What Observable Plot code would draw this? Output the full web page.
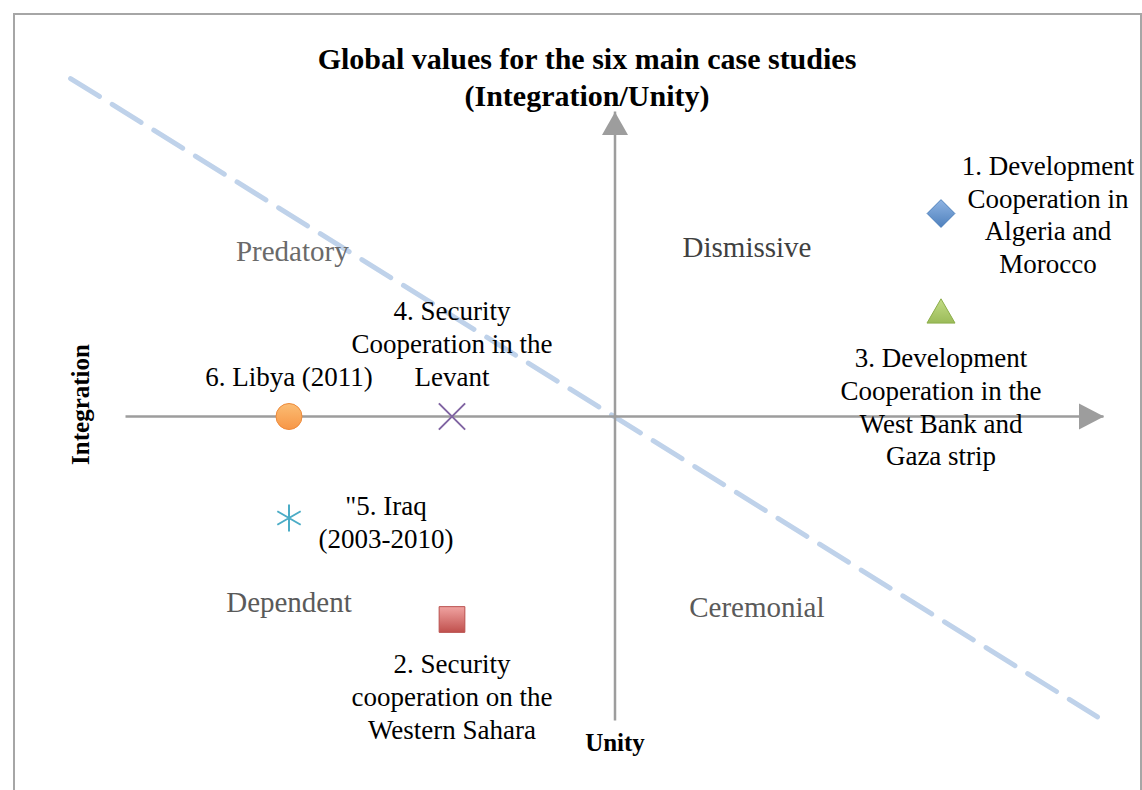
<!DOCTYPE html>
<html><head><meta charset="utf-8">
<script src="https://cdn.jsdelivr.net/npm/d3@7"></script>
<script src="https://cdn.jsdelivr.net/npm/@observablehq/plot@0.6"></script>
<style>
body{margin:0;background:#fff;width:1142px;height:790px;overflow:hidden;position:relative;font-family:"Liberation Serif","Times New Roman",serif}
#frame{position:absolute;left:13px;top:13px;width:1125px;height:820px;border:2px solid #a6a6a6;border-bottom:none}
#chart{position:absolute;left:0;top:0}
#title{position:absolute;left:0;top:40px;width:1174px;text-align:center;font-weight:bold;font-size:30px;line-height:37px;color:#000}
</style></head><body>
<div id="frame"></div>
<div id="chart"></div>
<div id="title">Global values for the six main case studies<br>(Integration/Unity)</div>
<script>
// ---- data ----
const caseLabels = [
  "1. Development\nCooperation in\nAlgeria and\nMorocco",
  "2. Security\ncooperation on the\nWestern Sahara",
  "3. Development\nCooperation in the\nWest Bank and\nGaza strip",
  "4. Security\nCooperation in the\nLevant",
  "\"5. Iraq\n(2003-2010)",
  "6. Libya (2011)"
];
const unity = [2, -1, 2, -1, -2, -2];
const integration = [2, -2, 1, 0, -1, 0];

const quadrantNames = ["Predatory", "Dismissive", "Dependent", "Ceremonial"];
const quadrantUnity = [-1.98, 0.81, -2.0, 0.87];
const quadrantIntegration = [1.62, 1.66, -1.83, -1.88];

const axisRange = [-3, 3];
const diagonalUnity = [-3.34, 2.96];
const diagonalIntegration = [3.33, -2.96];

// ---- styles ----
const caseStyles = [
  {symbol: "diamond2", fill: "url(#gBlue)", stroke: "#4a7ebb", r: 12.5, dx: 107, dy: 0},
  {symbol: "square", fill: "url(#gRed)", stroke: "#b9504d", r: 14.5, dx: 0, dy: 76},
  {symbol: "triangle", fill: "url(#gGreen)", stroke: "#8cae4a", r: 10.4, dx: 0, dy: 91},
  {symbol: "times", fill: "none", stroke: "#8064a2", r: 12, dx: 0, dy: -74, sw: 2},
  {symbol: "asterisk", fill: "none", stroke: "#4bacc6", r: 12.8, dx: 97, dy: 3, sw: 2},
  {symbol: "circle", fill: "url(#gOrange)", stroke: "#ee8a3a", r: 13, dx: 0, dy: -41}
];
const quadrantColors = ["#6a6a6a", "#404040", "#5a5a5a", "#5a5a5a"];

const rows = caseLabels.map((label, i) => ({label, x: unity[i], y: integration[i], i}));
const quadrants = quadrantNames.map((name, i) => ({name, x: quadrantUnity[i], y: quadrantIntegration[i], c: quadrantColors[i]}));
const diagonal = diagonalUnity.map((x, i) => ({x, y: diagonalIntegration[i]}));

const arrowRight = {draw(ctx) { ctx.moveTo(0, 0); ctx.lineTo(-25, -13); ctx.lineTo(-25, 13); ctx.closePath(); }};
const arrowUp = {draw(ctx) { ctx.moveTo(0, 0); ctx.lineTo(-13, 23); ctx.lineTo(13, 23); ctx.closePath(); }};

const axisGray = "#9d9d9d";
const font = "'Liberation Serif','Times New Roman',serif";

const marks = [
  Plot.line(diagonal, {x: "x", y: "y", stroke: "#bfd2ea", strokeWidth: 5, strokeDasharray: "34,15"}),
  Plot.ruleY([0], {x1: axisRange[0], x2: axisRange[1], stroke: axisGray, strokeWidth: 2.5}),
  Plot.ruleX([0], {y1: axisRange[0], y2: axisRange[1], stroke: axisGray, strokeWidth: 2.5}),
  Plot.dot([0], {x: () => axisRange[1], y: () => 0, symbol: arrowRight, fill: axisGray, stroke: "none"}),
  Plot.dot([0], {x: () => 0, y: () => axisRange[1], symbol: arrowUp, fill: axisGray, stroke: "none"}),
  Plot.text(quadrants, {x: "x", y: "y", text: "name", fontSize: 29, fill: d => d.c}),
  Plot.text(["Integration"], {frameAnchor: "left", textAnchor: "middle", lineAnchor: "middle", dx: -45, dy: -12, rotate: -90, fontSize: 25, fontWeight: "bold", fill: "#000"}),
  Plot.text(["Unity"], {frameAnchor: "bottom", textAnchor: "middle", lineAnchor: "middle", dy: 22, fontSize: 25, fontWeight: "bold", fill: "#000"})
];
rows.forEach((d, i) => {
  const s = caseStyles[i];
  marks.push(Plot.text([d], {x: "x", y: "y", text: "label", dx: s.dx, dy: s.dy, fontSize: 27, lineHeight: 1.21, fill: "#000"}));
});
rows.forEach((d, i) => {
  const s = caseStyles[i];
  marks.push(Plot.dot([d], {x: "x", y: "y", symbol: s.symbol, r: s.r, fill: s.fill, stroke: s.stroke, strokeWidth: s.sw || 1, ariaLabel: "case-dot"}));
});

const chart = Plot.plot({
  width: 1142, height: 790,
  marginLeft: 125.5, marginRight: 38.5, marginTop: 111.5, marginBottom: 69.5,
  x: {domain: axisRange, axis: null},
  y: {domain: axisRange, axis: null},
  color: {type: "identity"},
  style: {fontFamily: font, background: "transparent", overflow: "visible"},
  marks
});
const svg = d3.select(chart);
const defs = svg.insert("defs", ":first-child");
const grads = {gBlue: ["#8fb4e3", "#4f81bd"], gRed: ["#f0a3a1", "#c0504d"], gGreen: ["#c3dc86", "#9bbb59"], gOrange: ["#fbbd74", "#f79646"]};
for (const [id, [c1, c2]] of Object.entries(grads)) {
  const g = defs.append("linearGradient").attr("id", id).attr("x1", 0).attr("y1", 0).attr("x2", 0).attr("y2", 1);
  g.append("stop").attr("offset", "0%").attr("stop-color", c1);
  g.append("stop").attr("offset", "100%").attr("stop-color", c2);
}
const f = defs.append("filter").attr("id", "shadow").attr("x", "-50%").attr("y", "-50%").attr("width", "200%").attr("height", "200%");
f.append("feDropShadow").attr("dx", 0).attr("dy", 3).attr("stdDeviation", 2).attr("flood-color", "#000").attr("flood-opacity", 0.3);
svg.selectAll("g[aria-label='case-dot']").attr("filter", "url(#shadow)");
document.getElementById("chart").appendChild(chart);
</script>
</body></html>
